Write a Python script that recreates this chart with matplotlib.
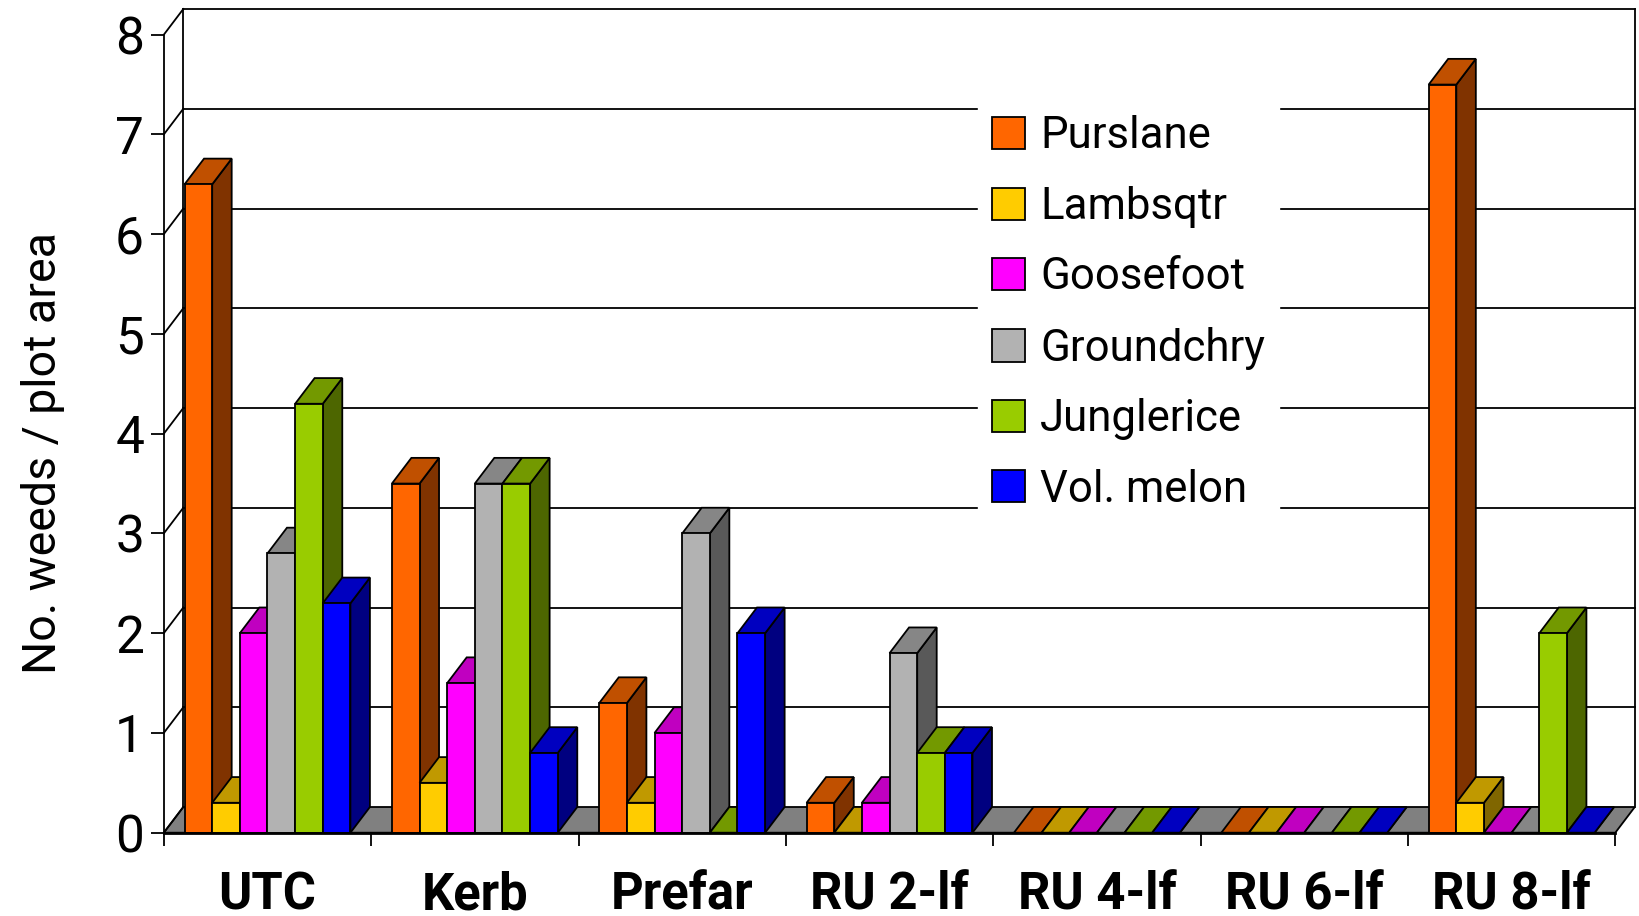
import matplotlib
matplotlib.use("Agg")
import matplotlib.pyplot as plt
from matplotlib.patches import Patch

plt.rcParams["font.family"] = ["Roboto", "Liberation Sans"]

# data
treatments = ["UTC", "Kerb", "Prefar", "RU 2-lf", "RU 4-lf", "RU 6-lf", "RU 8-lf"]
purslane = [6.5, 3.5, 1.3, 0.3, 0, 0, 7.5]
lambsqtr = [0.3, 0.5, 0.3, 0, 0, 0, 0.3]
goosefoot = [2, 1.5, 1, 0.3, 0, 0, 0]
groundchry = [2.8, 3.5, 3, 1.8, 0, 0, 0]
junglerice = [4.3, 3.5, 0, 0.8, 0, 0, 2]
vol_melon = [2.3, 0.8, 2, 0.8, 0, 0, 0]
y_ticks = [0, 1, 2, 3, 4, 5, 6, 7, 8]

series = [
    ("Purslane", purslane, "#FF6600", "#C05000", "#803300"),
    ("Lambsqtr", lambsqtr, "#FFCC00", "#C09900", "#806600"),
    ("Goosefoot", goosefoot, "#FF00FF", "#C000C0", "#800080"),
    ("Groundchry", groundchry, "#B2B2B2", "#868686", "#595959"),
    ("Junglerice", junglerice, "#99CC00", "#739900", "#4D6600"),
    ("Vol. melon", vol_melon, "#0000FF", "#0000C0", "#000080"),
]

W, H = 1639, 916
fig = plt.figure(figsize=(W / 100, H / 100), dpi=100)
x0, x1, y0, y1 = 163.8, 1615.3, 832.7, 34.7  # plot front plane in pixels
ax = fig.add_axes([x0 / W, 1 - y0 / H, (x1 - x0) / W, (y0 - y1) / H])
ax.set_xlim(0, len(treatments))
ax.set_ylim(0, 8)
ax.patch.set_visible(False)
for s in ax.spines.values():
    s.set_visible(False)

# depth of the fake 3d box, in data units
dx = 19.5 / ((x1 - x0) / len(treatments))
dy = 25.7 / ((y0 - y1) / 8)
nx = len(treatments)
lw = 1.3
line = dict(color="black", lw=lw, clip_on=False, solid_capstyle="projecting")

# floor and walls
ax.fill([0, nx, nx + dx, dx], [0, 0, dy, dy], fc="#808080", ec="black", lw=lw, clip_on=False, zorder=1)
ax.plot([dx, dx], [dy, 8 + dy], zorder=1, **line)
ax.plot([nx + dx, nx + dx], [dy, 8 + dy], zorder=1, **line)
ax.plot([0, 0], [0, 8], zorder=1, **line)
for v in y_ticks:
    ax.plot([0, dx], [v, v + dy], zorder=1, **line)
    if v > 0:
        ax.plot([dx, nx + dx], [v + dy, v + dy], zorder=1, **line)

# bars, left to right so the later ones cover the sides of the earlier ones
bar_w = 1 / 7.5
gap = (1 - 6 * bar_w) / 2
z = 2
for g in range(nx):
    for i, (name, vals, front, top, side) in enumerate(series):
        v = vals[g]
        a = g + gap + i * bar_w
        b = a + bar_w
        ax.fill([b, b + dx, b + dx, b], [0, dy, v + dy, v], fc=side, ec="black", lw=lw, clip_on=False, zorder=z)
        ax.fill([a, b, b + dx, a + dx], [v, v, v + dy, v + dy], fc=top, ec="black", lw=lw, clip_on=False, zorder=z)
        ax.fill([a, b, b, a], [0, 0, v, v], fc=front, ec="black", lw=lw, clip_on=False, zorder=z)
        z += 1
ax.plot([0, nx], [0, 0], color="black", lw=2, clip_on=False, zorder=z)

# axes ticks and labels
ax.set_yticks(y_ticks)
ax.tick_params(axis="y", length=9.2, width=lw, pad=5, labelsize=37)
ax.set_xticks(range(nx + 1))
ax.set_xticklabels([])
ax.tick_params(axis="x", which="major", length=9, width=lw)
ax.set_xticks([g + 0.5 for g in range(nx)], treatments, minor=True)
ax.tick_params(axis="x", which="minor", length=0, pad=27, labelsize=36.5)
for t in ax.get_xticklabels(minor=True):
    t.set_fontweight("bold")
ax.set_ylabel("No. weeds / plot area", fontsize=33.5)
ax.yaxis.set_label_coords((65 - x0) / (x1 - x0), (y0 - 453) / (y0 - y1))

# legend sits on a white box which hides the grid lines
handles = [Patch(fc=s[2], ec="black", lw=lw, label=s[0]) for s in series]
leg = ax.legend(
    handles=handles,
    loc="upper left",
    bbox_to_anchor=((978 - x0) / (x1 - x0), (y0 - 101) / (y0 - y1)),
    borderaxespad=0,
    borderpad=0.33,
    fontsize=31.5,
    frameon=True,
    fancybox=False,
    framealpha=1,
    facecolor="white",
    edgecolor="white",
    handlelength=0.755,
    handleheight=0.755,
    handletextpad=0.33,
    labelspacing=0.65,
)
leg.set_zorder(z + 1)

fig.savefig("out.png", dpi=100)
